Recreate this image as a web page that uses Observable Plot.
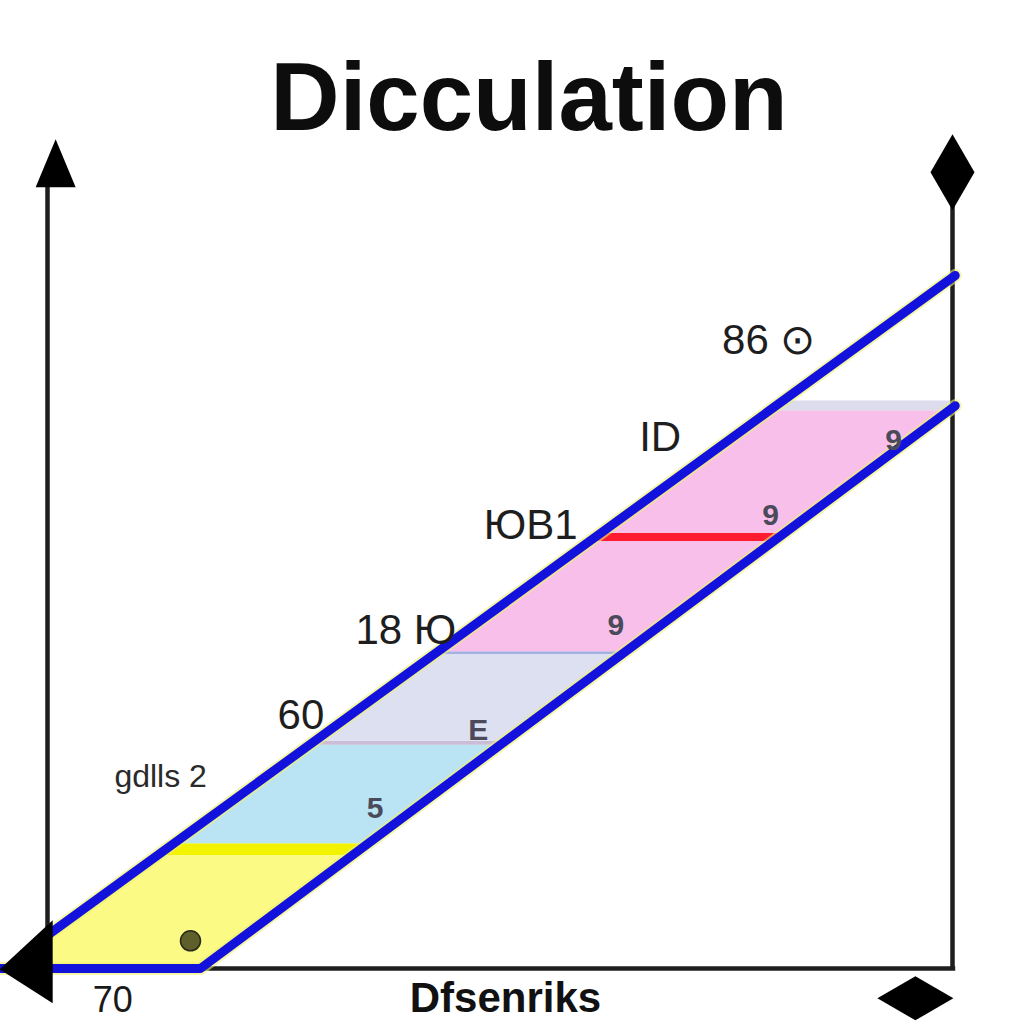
<!DOCTYPE html>
<html>
<head>
<meta charset="utf-8">
<script src="https://cdn.jsdelivr.net/npm/d3@7"></script>
<script src="https://cdn.jsdelivr.net/npm/@observablehq/plot@0.6"></script>
<style>
  html, body { margin: 0; padding: 0; background: #fff; }
  body { width: 1024px; height: 1024px; overflow: hidden; }
  #title {
    position: relative; z-index: 2;
    box-sizing: border-box; height: 128px; padding-top: 49px; padding-left: 34px;
    font-family: "Liberation Sans", Arial, sans-serif; font-weight: bold;
    font-size: 96px; line-height: 96px; text-align: center; color: #0d0d0d;
  }
  #chart svg { display: block; }
</style>
</head>
<body>
<div id="title">Dicculation</div>
<div id="chart"></div>
<script>
// ---- data (chart units: x 0..100 along the base, y 0..100 up the frame) ----
const upperLine = [{x: 0, y: 4.8}, {x: 100.3, y: 100}];
const lowerLine = [{x: -5.2, y: 0}, {x: 16.9, y: 0}, {x: 100.3, y: 81.2}];
const axisLines = [
  {x1: 0, y1: 0, x2: 0, y2: 113},
  {x1: 100, y1: 0, x2: 100, y2: 110.8},
  {x1: -5.2, y1: 0, x2: 100.3, y2: 0}
];
const bandKeys = ["yellow", "yellowEdge", "blue", "blueEdge", "lavender", "lavenderEdge", "pink", "red", "pink2", "top"];
const bandLow  = [0,    16.3, 18.0, 32.2, 32.8, 45.3, 45.7, 61.6, 62.8, 80.5];
const bandHigh = [16.3, 18.0, 32.2, 32.8, 45.3, 45.7, 61.6, 62.8, 80.5, 81.9];
const labels = [
  {label: "86 \u2299", x: 79.7, y: 90.6},
  {label: "ID", x: 67.7, y: 76.6},
  {label: "\u042E\u04121", x: 53.4, y: 63.9},
  {label: "18 \u042E", x: 39.6, y: 48.8},
  {label: "60", x: 28.0, y: 36.5}
];
const smallLabels = [{label: "gdlls 2", x: 12.5, y: 27.6}];
const glyphs = [
  {label: "5", x: 36.2, y: 23.1},
  {label: "E", x: 47.6, y: 34.3},
  {label: "9", x: 62.8, y: 49.5},
  {label: "9", x: 79.9, y: 65.4},
  {label: "9", x: 93.5, y: 76.2}
];
const points = [{x: 15.8, y: 4.0}];
const bottomLabels = [{label: "70", x: 7.2, y: -6.3}];
const xTitle = [{label: "Dfsenriks", x: 50.6, y: -6.3}];
const markers = [
  {kind: "up", x: 0.9, y: 116.2},
  {kind: "diamondV", x: 100, y: 114.9},
  {kind: "left", x: -2.3, y: 0.9},
  {kind: "diamondH", x: 95.9, y: -4.3}
];

// ---- styles ----
const bandColors = ["#fafa84", "#f3f300", "#bae3f4", "#cbbdd7", "#dde0f0", "#a3b2e0", "#f7bfe9", "#ff1c30", "#f7bfe9", "#dcdcec"];
const shapes = {
  up: {draw(c) { c.moveTo(0, -24); c.lineTo(20, 24); c.lineTo(-20, 24); c.closePath(); }},
  diamondV: {draw(c) { c.moveTo(0, -38); c.lineTo(22, 0); c.lineTo(0, 38); c.lineTo(-22, 0); c.closePath(); }},
  left: {draw(c) { c.moveTo(-27, 7); c.lineTo(26, -42); c.lineTo(26, 41); c.closePath(); }},
  diamondH: {draw(c) { c.moveTo(-38, 0); c.lineTo(0, -22); c.lineTo(38, 0); c.lineTo(0, 22); c.closePath(); }}
};

// ---- band polygons: between the axis/upper line (left) and the lower line (right) ----
const leftX = d3.scaleLinear().domain([0, upperLine[0].y, upperLine[1].y]).range([0, upperLine[0].x, upperLine[1].x]).clamp(true);
const rightX = d3.scaleLinear().domain([lowerLine[1].y, lowerLine[2].y]).range([lowerLine[1].x, lowerLine[2].x]).clamp(true);
const breaks = [upperLine[0].y, lowerLine[2].y];
const bandRows = [];
bandKeys.forEach((k, i) => {
  const ys = [bandLow[i], ...breaks.filter(b => b > bandLow[i] && b < bandHigh[i]), bandHigh[i]];
  ys.forEach(y => bandRows.push({band: k, y, x1: leftX(y), x2: rightX(y)}));
});

const sans = "'Liberation Sans', Arial, sans-serif";

const chart = Plot.plot({
  width: 1024,
  height: 896,
  marginLeft: 47,
  marginRight: 72,
  marginTop: 147,
  marginBottom: 56,
  x: {domain: [0, 100], axis: null},
  y: {domain: [0, 100], axis: null},
  color: {domain: bandKeys, range: bandColors},
  style: {background: "transparent"},
  marks: [
    Plot.areaX(bandRows, {y: "y", x1: "x1", x2: "x2", z: "band", fill: "band", curve: "linear"}),
    Plot.link(axisLines, {x1: "x1", y1: "y1", x2: "x2", y2: "y2", stroke: "#1e1e1e", strokeWidth: 4.5}),
    Plot.line(upperLine, {x: "x", y: "y", stroke: "#eef070", strokeWidth: 13, strokeOpacity: 0.6}),
    Plot.line(lowerLine, {x: "x", y: "y", stroke: "#eef070", strokeWidth: 13, strokeOpacity: 0.6}),
    Plot.line(upperLine, {x: "x", y: "y", stroke: "#1212dc", strokeWidth: 9, strokeLinecap: "round"}),
    Plot.line(lowerLine, {x: "x", y: "y", stroke: "#1212dc", strokeWidth: 9, strokeLinecap: "round", strokeLinejoin: "round"}),
    ...Object.keys(shapes).map(k => Plot.dot(markers.filter(m => m.kind === k), {x: "x", y: "y", symbol: shapes[k], fill: "#000", stroke: "none", r: 10})),
    Plot.dot(points, {x: "x", y: "y", r: 10, fill: "#5f5f2c", stroke: "#2a2a1a", strokeWidth: 1.5}),
    Plot.text(labels, {x: "x", y: "y", text: "label", fontSize: 42, fontFamily: sans, fill: "#1e1e1e"}),
    Plot.text(smallLabels, {x: "x", y: "y", text: "label", fontSize: 32, fontFamily: sans, fill: "#2a2a2a"}),
    Plot.text(glyphs, {x: "x", y: "y", text: "label", fontSize: 30, fontFamily: sans, fontWeight: "bold", fill: "#4a4a5a"}),
    Plot.text(bottomLabels, {x: "x", y: "y", text: "label", fontSize: 36, fontFamily: sans, lineAnchor: "bottom", fill: "#1a1a1a"}),
    Plot.text(xTitle, {x: "x", y: "y", text: "label", fontSize: 42, fontWeight: "bold", fontFamily: sans, lineAnchor: "bottom", fill: "#111"})
  ]
});
document.getElementById("chart").appendChild(chart);
</script>
</body>
</html>
